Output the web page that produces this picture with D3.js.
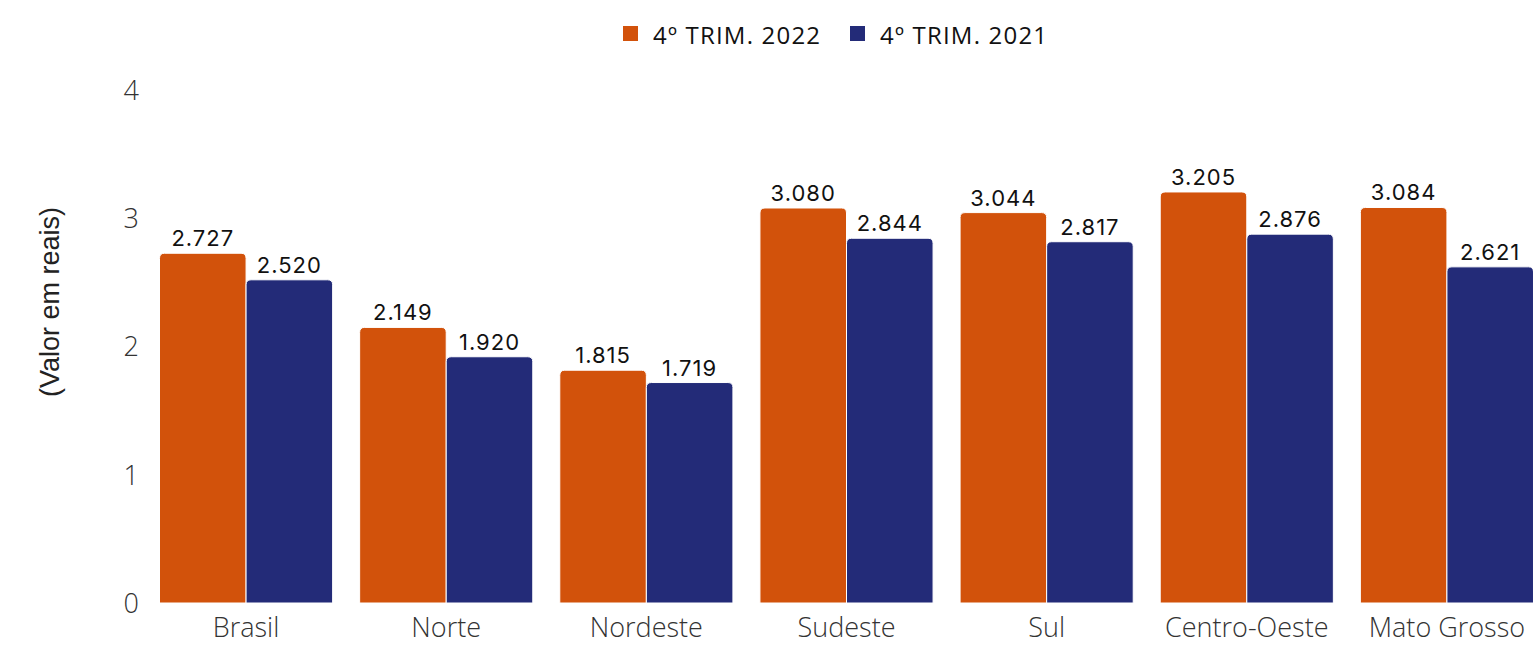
<!DOCTYPE html>
<html>
<head>
<meta charset="utf-8">
<script src="https://cdn.jsdelivr.net/npm/d3@7"></script>
<style>
  body { margin: 0; background: #fff; }
  .tick text { font-family: "Open Sans", sans-serif; font-weight: 300; fill: #333; }
  .domain, .tick line { display: none; }
</style>
</head>
<body>
<div id="chart"></div>
<script>
// data
var categories = ["Brasil", "Norte", "Nordeste", "Sudeste", "Sul", "Centro-Oeste", "Mato Grosso"];
var seriesNames = ["4º TRIM. 2022", "4º TRIM. 2021"];
var values2022 = [2.727, 2.149, 1.815, 3.080, 3.044, 3.205, 3.084];
var values2021 = [2.520, 1.920, 1.719, 2.844, 2.817, 2.876, 2.621];
var yTicks = [0, 1, 2, 3, 4];

var colors = ["#d2520b", "#232b78"];
var width = 1533, height = 646;

var svg = d3.select("#chart").append("svg")
    .attr("width", width)
    .attr("height", height);

// scales
var x0 = d3.scaleBand()
    .domain(categories)
    .range([146, 1547])
    .paddingInner(0.135)
    .paddingOuter(0.0675);

var x1 = d3.scaleBand()
    .domain(seriesNames)
    .range([0, x0.bandwidth()]);

var y = d3.scaleLinear()
    .domain([0, 4])
    .range([603, 90]);

// axes
svg.append("g")
    .attr("transform", "translate(139,0)")
    .call(d3.axisLeft(y).tickValues(yTicks).tickSize(0).tickPadding(0).tickFormat(d3.format("d")))
    .selectAll("text")
    .style("font-size", "27px")
    .attr("dy", "0.35em");

svg.append("g")
    .attr("transform", "translate(0,603)")
    .call(d3.axisBottom(x0).tickSize(0))
    .selectAll("text")
    .style("font-size", "27px")
    .attr("y", 34)
    .attr("dy", "0");

svg.append("text")
    .attr("transform", "translate(59,302) rotate(-90)")
    .attr("text-anchor", "middle")
    .style("font-family", "'Liberation Sans', Arial, sans-serif")
    .style("font-size", "27px")
    .style("fill", "#222")
    .text("(Valor em reais)");

// bars
var rows = categories.map(function(c, i) {
  return {cat: c, vals: [values2022[i], values2021[i]]};
});

function barPath(x, yTop, w, h, r) {
  return "M" + x + "," + (yTop + h) +
    "V" + (yTop + r) +
    "Q" + x + "," + yTop + " " + (x + r) + "," + yTop +
    "H" + (x + w - r) +
    "Q" + (x + w) + "," + yTop + " " + (x + w) + "," + (yTop + r) +
    "V" + (yTop + h) + "Z";
}

var groups = svg.selectAll(".grp")
    .data(rows)
    .enter().append("g")
    .attr("class", "grp")
    .attr("transform", function(d) { return "translate(" + x0(d.cat) + ",0)"; });

groups.selectAll("path")
    .data(function(d) { return d.vals.map(function(v, j) { return {s: seriesNames[j], v: v, j: j}; }); })
    .enter().append("path")
    .attr("d", function(d) {
      return barPath(x1(d.s), y(d.v), x1.bandwidth(), y(0) - y(d.v), 5);
    })
    .attr("fill", function(d) { return colors[d.j]; })
    .attr("stroke", "#fff")
    .attr("stroke-width", 1);

groups.selectAll("text")
    .data(function(d) { return d.vals.map(function(v, j) { return {s: seriesNames[j], v: v, j: j}; }); })
    .enter().append("text")
    .attr("x", function(d) { return x1(d.s) + x1.bandwidth() / 2; })
    .attr("y", function(d) { return y(d.v) - 7; })
    .attr("text-anchor", "middle")
    .style("font-family", "Inter, sans-serif")
    .style("font-size", "22px")
    .style("letter-spacing", "1px")
    .style("fill", "#111")
    .text(function(d) { return d3.format(".3f")(d.v); });

// legend
var legendX = [623, 850];
var legend = svg.selectAll(".leg")
    .data(seriesNames)
    .enter().append("g")
    .attr("class", "leg")
    .attr("transform", function(d, i) { return "translate(" + legendX[i] + ",26)"; });

legend.append("rect")
    .attr("width", 15)
    .attr("height", 15)
    .attr("fill", function(d, i) { return colors[i]; });

legend.append("text")
    .attr("x", 30)
    .attr("y", 18)
    .style("font-family", "'Open Sans', sans-serif")
    .style("font-size", "24px")
    .style("letter-spacing", "1.2px")
    .style("fill", "#111")
    .text(function(d) { return d; });
</script>
</body>
</html>
